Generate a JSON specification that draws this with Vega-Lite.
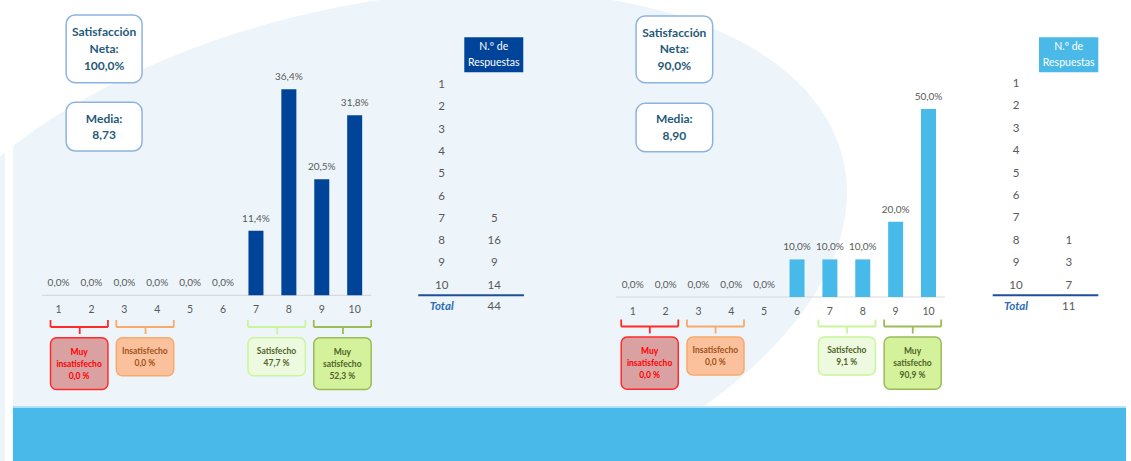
{
  "$schema": "https://vega.github.io/schema/vega-lite/v6.json",
  "width": 1131,
  "height": 461,
  "autosize": "none",
  "padding": 0,
  "background": "#ffffff",
  "config": {
    "view": {"stroke": null},
    "font": "Lato",
    "axis": {"disable": true},
    "legend": {"disable": true},
    "locale": {"number": {"decimal": ",", "thousands": ".", "grouping": [3], "currency": ["", " €"]}}
  },
  "datasets": {
    "left": [
      {"score": 1, "pct": 0, "count": null},
      {"score": 2, "pct": 0, "count": null},
      {"score": 3, "pct": 0, "count": null},
      {"score": 4, "pct": 0, "count": null},
      {"score": 5, "pct": 0, "count": null},
      {"score": 6, "pct": 0, "count": null},
      {"score": 7, "pct": 0.114, "count": 5},
      {"score": 8, "pct": 0.364, "count": 16},
      {"score": 9, "pct": 0.205, "count": 9},
      {"score": 10, "pct": 0.318, "count": 14}
    ],
    "right": [
      {"score": 1, "pct": 0, "count": null},
      {"score": 2, "pct": 0, "count": null},
      {"score": 3, "pct": 0, "count": null},
      {"score": 4, "pct": 0, "count": null},
      {"score": 5, "pct": 0, "count": null},
      {"score": 6, "pct": 0.1, "count": null},
      {"score": 7, "pct": 0.1, "count": null},
      {"score": 8, "pct": 0.1, "count": 1},
      {"score": 9, "pct": 0.2, "count": 3},
      {"score": 10, "pct": 0.5, "count": 7}
    ],
    "leftGroups": [
      {"group": "Muy insatisfecho", "from": 1, "to": 2, "share": 0.0},
      {"group": "Insatisfecho", "from": 3, "to": 4, "share": 0.0},
      {"group": "Satisfecho", "from": 7, "to": 8, "share": 47.7},
      {"group": "Muy satisfecho", "from": 9, "to": 10, "share": 52.3}
    ],
    "rightGroups": [
      {"group": "Muy insatisfecho", "from": 1, "to": 2, "share": 0.0},
      {"group": "Insatisfecho", "from": 3, "to": 4, "share": 0.0},
      {"group": "Satisfecho", "from": 7, "to": 8, "share": 9.1},
      {"group": "Muy satisfecho", "from": 9, "to": 10, "share": 90.9}
    ],
    "leftKpi": [{"net": 1.0, "mean": 8.73}],
    "rightKpi": [{"net": 0.9, "mean": 8.9}],
    "one": [{"item": 1}]
  },
  "layer": [
    {
      "layer": [
        {
          "data": {"name": "one"},
          "mark": {"type": "point", "shape": "M1,0C1,0.2971,0.5523,0.538,0,0.538C-0.5523,0.538,-1,0.2971,-1,0C-1,-0.2971,-0.5523,-0.538,0,-0.538C0.5523,-0.538,1,-0.2971,1,0Z", "filled": true, "fill": "#edf5fa", "opacity": 1, "strokeWidth": 0, "size": 956484, "angle": 347},
          "encoding": {
            "x": {"datum": 10.367, "type": "quantitative", "scale": {"domain": [-0.6265, 33.44], "nice": false, "zero": false}, "axis": null},
            "y": {"datum": 0.0447, "type": "quantitative", "scale": {"domain": [-0.29276, 0.52173], "nice": false, "zero": false}, "axis": null}
          }
        },
        {
          "data": {"name": "one"},
          "mark": {"type": "rect", "fill": "#ffffff"},
          "encoding": {
            "x": {"datum": -0.6265, "type": "quantitative"},
            "x2": {"datum": -0.3855},
            "y": {"datum": -0.29276, "type": "quantitative"},
            "y2": {"datum": 0.52173}
          }
        },
        {
          "data": {"name": "one"},
          "mark": {"type": "rect", "fill": "#48b9e8"},
          "encoding": {
            "x": {"datum": -0.3855, "type": "quantitative"},
            "x2": {"datum": 33.44},
            "y": {"datum": -0.1985, "type": "quantitative"},
            "y2": {"datum": -0.29276}
          }
        },
        {
          "data": {"name": "one"},
          "mark": {"type": "rule", "stroke": "#a6dbf2", "strokeWidth": 1.5},
          "encoding": {
            "x": {"datum": -0.3855, "type": "quantitative"},
            "x2": {"datum": 33.44},
            "y": {"datum": -0.1975, "type": "quantitative"}
          }
        },
        {
          "data": {"name": "one"},
          "mark": {"type": "rule", "stroke": "#d9d9d9", "strokeWidth": 1.2},
          "encoding": {
            "x": {"datum": 0.5, "type": "quantitative"},
            "x2": {"datum": 10.5},
            "y": {"datum": 0, "type": "quantitative"}
          }
        },
        {
          "data": {"name": "left"},
          "mark": {"type": "bar", "width": 15, "color": "#00449a"},
          "encoding": {
            "x": {"field": "score", "type": "quantitative"},
            "y": {"field": "pct", "type": "quantitative"},
            "y2": {"datum": 0}
          }
        },
        {
          "data": {"name": "left"},
          "mark": {"type": "text", "dy": -12, "fontSize": 10, "fill": "#595959", "baseline": "middle"},
          "encoding": {
            "x": {"field": "score", "type": "quantitative"},
            "y": {"field": "pct", "type": "quantitative"},
            "text": {"field": "pct", "type": "quantitative", "format": ".1%"}
          }
        },
        {
          "data": {"name": "left"},
          "mark": {"type": "text", "dy": 15, "fontSize": 10.5, "fill": "#595959", "baseline": "middle"},
          "encoding": {
            "x": {"field": "score", "type": "quantitative"},
            "y": {"datum": 0, "type": "quantitative"},
            "text": {"field": "score", "type": "quantitative"}
          }
        },
        {
          "data": {"name": "leftGroups"},
          "mark": {"type": "rule", "strokeWidth": 1.8, "xOffset": -8, "x2Offset": 16.5},
          "encoding": {
            "x": {"field": "from", "type": "quantitative"},
            "x2": {"field": "to"},
            "y": {"datum": -0.056, "type": "quantitative"},
            "stroke": {"field": "group", "type": "nominal", "scale": {"domain": ["Muy insatisfecho", "Insatisfecho", "Satisfecho", "Muy satisfecho"], "range": ["#ff2b2b", "#f7aa6b", "#c9f59b", "#9bbb59"]}, "legend": null}
          }
        },
        {
          "data": {"name": "leftGroups"},
          "mark": {"type": "rule", "strokeWidth": 1.8, "xOffset": -8},
          "encoding": {
            "x": {"field": "from", "type": "quantitative"},
            "y": {"datum": -0.04364, "type": "quantitative"},
            "y2": {"datum": -0.056},
            "stroke": {"field": "group", "type": "nominal", "legend": null}
          }
        },
        {
          "data": {"name": "leftGroups"},
          "mark": {"type": "rule", "strokeWidth": 1.8, "xOffset": 16.5},
          "encoding": {
            "x": {"field": "to", "type": "quantitative"},
            "y": {"datum": -0.04364, "type": "quantitative"},
            "y2": {"datum": -0.056},
            "stroke": {"field": "group", "type": "nominal", "legend": null}
          }
        },
        {
          "data": {"name": "leftGroups"},
          "mark": {"type": "rule", "strokeWidth": 1.8, "xOffset": -11.7},
          "encoding": {
            "x": {"field": "to", "type": "quantitative"},
            "y": {"datum": -0.056, "type": "quantitative"},
            "y2": {"datum": -0.06837},
            "stroke": {"field": "group", "type": "nominal", "legend": null}
          }
        },
        {
          "data": {"name": "leftGroups"},
          "transform": [{"filter": "indexof(datum.group, ' ') >= 0"}],
          "mark": {"type": "rect", "xOffset": -8, "x2Offset": 16.5, "cornerRadius": 6, "strokeWidth": 1.5},
          "encoding": {
            "x": {"field": "from", "type": "quantitative"},
            "x2": {"field": "to"},
            "y": {"datum": -0.07491, "type": "quantitative"},
            "y2": {"datum": -0.16643},
            "fill": {"field": "group", "type": "nominal", "scale": {"domain": ["Muy insatisfecho", "Insatisfecho", "Satisfecho", "Muy satisfecho"], "range": ["#d9a1a1", "#fbc19c", "#eefadf", "#d3f29b"]}, "legend": null},
            "stroke": {"field": "group", "type": "nominal", "legend": null}
          }
        },
        {
          "data": {"name": "leftGroups"},
          "transform": [{"filter": "indexof(datum.group, ' ') < 0"}],
          "mark": {"type": "rect", "xOffset": -8, "x2Offset": 16.5, "cornerRadius": 6, "strokeWidth": 1.5},
          "encoding": {
            "x": {"field": "from", "type": "quantitative"},
            "x2": {"field": "to"},
            "y": {"datum": -0.07491, "type": "quantitative"},
            "y2": {"datum": -0.14205},
            "fill": {"field": "group", "type": "nominal", "legend": null},
            "stroke": {"field": "group", "type": "nominal", "legend": null}
          }
        },
        {
          "data": {"name": "leftGroups"},
          "transform": [
            {"filter": "indexof(datum.group, ' ') >= 0"},
            {"calculate": "datum.group + ' ' + format(datum.share, '.1f') + '\u00a0%'", "as": "label"}
          ],
          "mark": {"type": "text", "dx": -12.35, "dy": -12, "fontSize": 8.5, "fontWeight": "bold", "lineBreak": " ", "lineHeight": 12, "baseline": "middle"},
          "encoding": {
            "x": {"field": "to", "type": "quantitative"},
            "y": {"datum": -0.12067, "type": "quantitative"},
            "text": {"field": "label"},
            "color": {"field": "group", "type": "nominal", "scale": {"domain": ["Muy insatisfecho", "Insatisfecho", "Satisfecho", "Muy satisfecho"], "range": ["#ff0000", "#a0501a", "#4f6228", "#4f6228"]}, "legend": null}
          }
        },
        {
          "data": {"name": "leftGroups"},
          "transform": [
            {"filter": "indexof(datum.group, ' ') < 0"},
            {"calculate": "datum.group + ' ' + format(datum.share, '.1f') + '\u00a0%'", "as": "label"}
          ],
          "mark": {"type": "text", "dx": -12.35, "dy": -6, "fontSize": 8.5, "fontWeight": "bold", "lineBreak": " ", "lineHeight": 12, "baseline": "middle"},
          "encoding": {
            "x": {"field": "to", "type": "quantitative"},
            "y": {"datum": -0.10848, "type": "quantitative"},
            "text": {"field": "label"},
            "color": {"field": "group", "type": "nominal", "legend": null}
          }
        },
        {
          "data": {"name": "leftKpi"},
          "mark": {"type": "rect", "fill": "#ffffff", "stroke": "#8db3e2", "strokeWidth": 1.5, "cornerRadius": 9},
          "encoding": {
            "x": {"datum": 1.232, "type": "quantitative"},
            "x2": {"datum": 3.539},
            "y": {"datum": 0.4952, "type": "quantitative"},
            "y2": {"datum": 0.3756}
          }
        },
        {
          "data": {"name": "leftKpi"},
          "mark": {"type": "rect", "fill": "#ffffff", "stroke": "#8db3e2", "strokeWidth": 1.5, "cornerRadius": 9},
          "encoding": {
            "x": {"datum": 1.232, "type": "quantitative"},
            "x2": {"datum": 3.539},
            "y": {"datum": 0.341, "type": "quantitative"},
            "y2": {"datum": 0.2549}
          }
        },
        {
          "data": {"name": "leftKpi"},
          "transform": [{"calculate": "'Satisfacción Neta: ' + format(datum.net, '.1%')", "as": "label"}],
          "mark": {"type": "text", "dy": -16.7, "fontSize": 12, "fontWeight": "bold", "fill": "#1f5a78", "lineBreak": " ", "lineHeight": 16.7, "baseline": "middle"},
          "encoding": {
            "x": {"datum": 2.386, "type": "quantitative"},
            "y": {"datum": 0.4352, "type": "quantitative"},
            "text": {"field": "label"}
          }
        },
        {
          "data": {"name": "leftKpi"},
          "transform": [{"calculate": "'Media: ' + format(datum.mean, '.2f')", "as": "label"}],
          "mark": {"type": "text", "dy": -8.35, "fontSize": 12, "fontWeight": "bold", "fill": "#1f5a78", "lineBreak": " ", "lineHeight": 16.7, "baseline": "middle"},
          "encoding": {
            "x": {"datum": 2.386, "type": "quantitative"},
            "y": {"datum": 0.2973, "type": "quantitative"},
            "text": {"field": "label"}
          }
        }
      ]
    },
    {
      "layer": [
        {
          "data": {"name": "one"},
          "mark": {"type": "rect", "fill": "#00449a"},
          "encoding": {
            "x": {"datum": 0.4297, "type": "quantitative", "scale": {"domain": [-8.397, 13.105], "nice": false, "zero": false}, "axis": null},
            "x2": {"datum": 1.5513},
            "y": {"datum": -1.139, "type": "quantitative", "scale": {"domain": [-2.8117, 17.861], "nice": false, "zero": false, "reverse": true}, "axis": null},
            "y2": {"datum": 0.4305}
          }
        },
        {
          "data": {"name": "one"},
          "mark": {"type": "text", "dy": -8, "fill": "#ffffff", "fontSize": 10.5, "lineHeight": 16, "baseline": "middle"},
          "encoding": {
            "x": {"datum": 0.99, "type": "quantitative"},
            "y": {"datum": -0.354, "type": "quantitative"},
            "text": {"value": ["N.º de", "Respuestas"]}
          }
        },
        {
          "data": {"name": "left"},
          "mark": {"type": "text", "fontSize": 11.5, "fill": "#595959", "baseline": "middle"},
          "encoding": {
            "x": {"datum": 0, "type": "quantitative"},
            "y": {"field": "score", "type": "quantitative"},
            "text": {"field": "score", "type": "quantitative"}
          }
        },
        {
          "data": {"name": "left"},
          "transform": [{"filter": "isValid(datum.count)"}],
          "mark": {"type": "text", "fontSize": 11.5, "fill": "#595959", "baseline": "middle"},
          "encoding": {
            "x": {"datum": 1, "type": "quantitative"},
            "y": {"field": "score", "type": "quantitative"},
            "text": {"field": "count", "type": "quantitative"}
          }
        },
        {
          "data": {"name": "one"},
          "mark": {"type": "rule", "stroke": "#1f4e9a", "strokeWidth": 2},
          "encoding": {
            "x": {"datum": -0.4449, "type": "quantitative"},
            "x2": {"datum": 1.5646},
            "y": {"datum": 10.43, "type": "quantitative"}
          }
        },
        {
          "data": {"name": "one"},
          "mark": {"type": "text", "fontSize": 11.5, "fontStyle": "italic", "fontWeight": "bold", "fill": "#2e6db4", "baseline": "middle"},
          "encoding": {
            "x": {"datum": 0, "type": "quantitative"},
            "y": {"datum": 10.969, "type": "quantitative"},
            "text": {"value": "Total"}
          }
        },
        {
          "data": {"name": "left"},
          "transform": [{"aggregate": [{"op": "sum", "field": "count", "as": "total"}]}],
          "mark": {"type": "text", "fontSize": 11.5, "fill": "#595959", "baseline": "middle"},
          "encoding": {
            "x": {"datum": 1, "type": "quantitative"},
            "y": {"datum": 10.969, "type": "quantitative"},
            "text": {"field": "total", "type": "quantitative"}
          }
        }
      ]
    },
    {
      "layer": [
        {
          "data": {"name": "one"},
          "mark": {"type": "rule", "stroke": "#d9d9d9", "strokeWidth": 1.2},
          "encoding": {
            "x": {"datum": 0.5, "type": "quantitative", "scale": {"domain": [-18.098, 16.009], "nice": false, "zero": false}, "axis": null},
            "x2": {"datum": 10.5},
            "y": {"datum": 0, "type": "quantitative", "scale": {"domain": [-0.43617, 0.78989], "nice": false, "zero": false}, "axis": null}
          }
        },
        {
          "data": {"name": "right"},
          "mark": {"type": "bar", "width": 15, "color": "#48baea"},
          "encoding": {
            "x": {"field": "score", "type": "quantitative"},
            "y": {"field": "pct", "type": "quantitative"},
            "y2": {"datum": 0}
          }
        },
        {
          "data": {"name": "right"},
          "mark": {"type": "text", "dy": -12, "fontSize": 10, "fill": "#595959", "baseline": "middle"},
          "encoding": {
            "x": {"field": "score", "type": "quantitative"},
            "y": {"field": "pct", "type": "quantitative"},
            "text": {"field": "pct", "type": "quantitative", "format": ".1%"}
          }
        },
        {
          "data": {"name": "right"},
          "mark": {"type": "text", "dy": 15, "fontSize": 10.5, "fill": "#595959", "baseline": "middle"},
          "encoding": {
            "x": {"field": "score", "type": "quantitative"},
            "y": {"datum": 0, "type": "quantitative"},
            "text": {"field": "score", "type": "quantitative"}
          }
        },
        {
          "data": {"name": "rightGroups"},
          "mark": {"type": "rule", "strokeWidth": 1.8, "xOffset": -11.5, "x2Offset": 12.7},
          "encoding": {
            "x": {"field": "from", "type": "quantitative"},
            "x2": {"field": "to"},
            "y": {"datum": -0.0785, "type": "quantitative"},
            "stroke": {"field": "group", "type": "nominal", "legend": null}
          }
        },
        {
          "data": {"name": "rightGroups"},
          "mark": {"type": "rule", "strokeWidth": 1.8, "xOffset": -11.5},
          "encoding": {
            "x": {"field": "from", "type": "quantitative"},
            "y": {"datum": -0.0598, "type": "quantitative"},
            "y2": {"datum": -0.0785},
            "stroke": {"field": "group", "type": "nominal", "legend": null}
          }
        },
        {
          "data": {"name": "rightGroups"},
          "mark": {"type": "rule", "strokeWidth": 1.8, "xOffset": 12.7},
          "encoding": {
            "x": {"field": "to", "type": "quantitative"},
            "y": {"datum": -0.0598, "type": "quantitative"},
            "y2": {"datum": -0.0785},
            "stroke": {"field": "group", "type": "nominal", "legend": null}
          }
        },
        {
          "data": {"name": "rightGroups"},
          "mark": {"type": "rule", "strokeWidth": 1.8, "xOffset": -15.75},
          "encoding": {
            "x": {"field": "to", "type": "quantitative"},
            "y": {"datum": -0.0785, "type": "quantitative"},
            "y2": {"datum": -0.0971},
            "stroke": {"field": "group", "type": "nominal", "legend": null}
          }
        },
        {
          "data": {"name": "rightGroups"},
          "transform": [{"filter": "indexof(datum.group, ' ') >= 0"}],
          "mark": {"type": "rect", "xOffset": -11.5, "x2Offset": 12.7, "cornerRadius": 6, "strokeWidth": 1.5},
          "encoding": {
            "x": {"field": "from", "type": "quantitative"},
            "x2": {"field": "to"},
            "y": {"datum": -0.1064, "type": "quantitative"},
            "y2": {"datum": -0.2455},
            "fill": {"field": "group", "type": "nominal", "legend": null},
            "stroke": {"field": "group", "type": "nominal", "legend": null}
          }
        },
        {
          "data": {"name": "rightGroups"},
          "transform": [{"filter": "indexof(datum.group, ' ') < 0"}],
          "mark": {"type": "rect", "xOffset": -11.5, "x2Offset": 12.7, "cornerRadius": 6, "strokeWidth": 1.5},
          "encoding": {
            "x": {"field": "from", "type": "quantitative"},
            "x2": {"field": "to"},
            "y": {"datum": -0.1064, "type": "quantitative"},
            "y2": {"datum": -0.2074},
            "fill": {"field": "group", "type": "nominal", "legend": null},
            "stroke": {"field": "group", "type": "nominal", "legend": null}
          }
        },
        {
          "data": {"name": "rightGroups"},
          "transform": [
            {"filter": "indexof(datum.group, ' ') >= 0"},
            {"calculate": "datum.group + ' ' + format(datum.share, '.1f') + '\u00a0%'", "as": "label"}
          ],
          "mark": {"type": "text", "dx": -15.98, "dy": -12, "fontSize": 8.5, "fontWeight": "bold", "lineBreak": " ", "lineHeight": 12, "baseline": "middle"},
          "encoding": {
            "x": {"field": "to", "type": "quantitative"},
            "y": {"datum": -0.176, "type": "quantitative"},
            "text": {"field": "label"},
            "color": {"field": "group", "type": "nominal", "legend": null}
          }
        },
        {
          "data": {"name": "rightGroups"},
          "transform": [
            {"filter": "indexof(datum.group, ' ') < 0"},
            {"calculate": "datum.group + ' ' + format(datum.share, '.1f') + '\u00a0%'", "as": "label"}
          ],
          "mark": {"type": "text", "dx": -15.98, "dy": -6, "fontSize": 8.5, "fontWeight": "bold", "lineBreak": " ", "lineHeight": 12, "baseline": "middle"},
          "encoding": {
            "x": {"field": "to", "type": "quantitative"},
            "y": {"datum": -0.1569, "type": "quantitative"},
            "text": {"field": "label"},
            "color": {"field": "group", "type": "nominal", "legend": null}
          }
        },
        {
          "data": {"name": "rightKpi"},
          "mark": {"type": "rect", "fill": "#ffffff", "stroke": "#8db3e2", "strokeWidth": 1.5, "cornerRadius": 9},
          "encoding": {
            "x": {"datum": 1.1025, "type": "quantitative"},
            "x2": {"datum": 3.4337},
            "y": {"datum": 0.74734, "type": "quantitative"},
            "y2": {"datum": 0.56995}
          }
        },
        {
          "data": {"name": "rightKpi"},
          "mark": {"type": "rect", "fill": "#ffffff", "stroke": "#8db3e2", "strokeWidth": 1.5, "cornerRadius": 9},
          "encoding": {
            "x": {"datum": 1.1025, "type": "quantitative"},
            "x2": {"datum": 3.4337},
            "y": {"datum": 0.51516, "type": "quantitative"},
            "y2": {"datum": 0.38644}
          }
        },
        {
          "data": {"name": "rightKpi"},
          "transform": [{"calculate": "'Satisfacción Neta: ' + format(datum.net, '.1%')", "as": "label"}],
          "mark": {"type": "text", "dy": -16.7, "fontSize": 12, "fontWeight": "bold", "fill": "#1f5a78", "lineBreak": " ", "lineHeight": 16.7, "baseline": "middle"},
          "encoding": {
            "x": {"datum": 2.2666, "type": "quantitative"},
            "y": {"datum": 0.65878, "type": "quantitative"},
            "text": {"field": "label"}
          }
        },
        {
          "data": {"name": "rightKpi"},
          "transform": [{"calculate": "'Media: ' + format(datum.mean, '.2f')", "as": "label"}],
          "mark": {"type": "text", "dy": -8.35, "fontSize": 12, "fontWeight": "bold", "fill": "#1f5a78", "lineBreak": " ", "lineHeight": 16.7, "baseline": "middle"},
          "encoding": {
            "x": {"datum": 2.2666, "type": "quantitative"},
            "y": {"datum": 0.4508, "type": "quantitative"},
            "text": {"field": "label"}
          }
        }
      ]
    },
    {
      "layer": [
        {
          "data": {"name": "one"},
          "mark": {"type": "rect", "fill": "#4ab9e8"},
          "encoding": {
            "x": {"datum": 0.4364, "type": "quantitative", "scale": {"domain": [-19.279, 2.182], "nice": false, "zero": false}, "axis": null},
            "x2": {"datum": 1.5617},
            "y": {"datum": -1.0848, "type": "quantitative", "scale": {"domain": [-2.75, 17.83], "nice": false, "zero": false, "reverse": true}, "axis": null},
            "y2": {"datum": 0.4777}
          }
        },
        {
          "data": {"name": "one"},
          "mark": {"type": "text", "dy": -8, "fill": "#ffffff", "fontSize": 10.5, "lineHeight": 16, "baseline": "middle"},
          "encoding": {
            "x": {"datum": 0.999, "type": "quantitative"},
            "y": {"datum": -0.3036, "type": "quantitative"},
            "text": {"value": ["N.º de", "Respuestas"]}
          }
        },
        {
          "data": {"name": "right"},
          "mark": {"type": "text", "fontSize": 11.5, "fill": "#595959", "baseline": "middle"},
          "encoding": {
            "x": {"datum": 0, "type": "quantitative"},
            "y": {"field": "score", "type": "quantitative"},
            "text": {"field": "score", "type": "quantitative"}
          }
        },
        {
          "data": {"name": "right"},
          "transform": [{"filter": "isValid(datum.count)"}],
          "mark": {"type": "text", "fontSize": 11.5, "fill": "#595959", "baseline": "middle"},
          "encoding": {
            "x": {"datum": 1, "type": "quantitative"},
            "y": {"field": "score", "type": "quantitative"},
            "text": {"field": "count", "type": "quantitative"}
          }
        },
        {
          "data": {"name": "one"},
          "mark": {"type": "rule", "stroke": "#1f4e9a", "strokeWidth": 2},
          "encoding": {
            "x": {"datum": -0.4421, "type": "quantitative"},
            "x2": {"datum": 1.5617},
            "y": {"datum": 10.433, "type": "quantitative"}
          }
        },
        {
          "data": {"name": "one"},
          "mark": {"type": "text", "fontSize": 11.5, "fontStyle": "italic", "fontWeight": "bold", "fill": "#2e6db4", "baseline": "middle"},
          "encoding": {
            "x": {"datum": 0, "type": "quantitative"},
            "y": {"datum": 10.969, "type": "quantitative"},
            "text": {"value": "Total"}
          }
        },
        {
          "data": {"name": "right"},
          "transform": [{"aggregate": [{"op": "sum", "field": "count", "as": "total"}]}],
          "mark": {"type": "text", "fontSize": 11.5, "fill": "#595959", "baseline": "middle"},
          "encoding": {
            "x": {"datum": 1, "type": "quantitative"},
            "y": {"datum": 10.969, "type": "quantitative"},
            "text": {"field": "total", "type": "quantitative"}
          }
        }
      ]
    }
  ],
  "resolve": {"scale": {"x": "independent", "y": "independent"}}
}
